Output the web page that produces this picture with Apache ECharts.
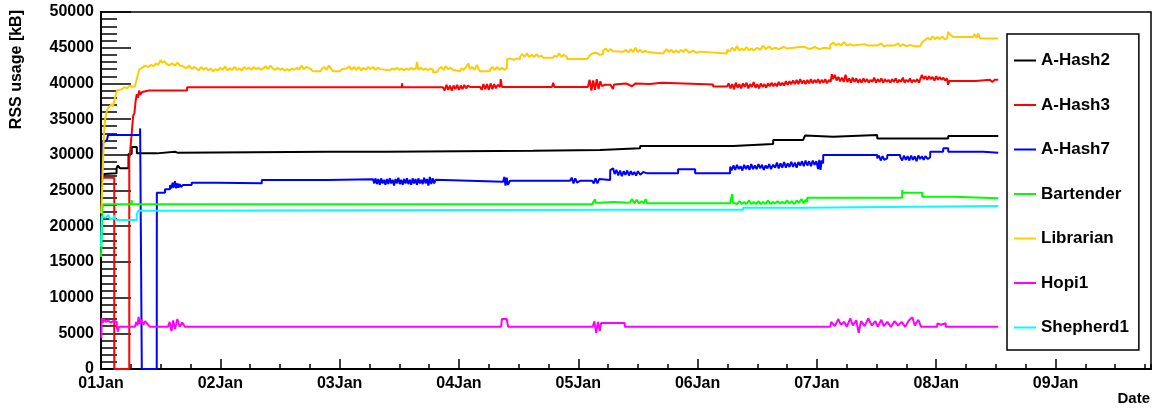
<!DOCTYPE html>
<html>
<head>
<meta charset="utf-8">
<script src="https://cdn.jsdelivr.net/npm/echarts@6/dist/echarts.min.js"></script>
<style>
html,body{margin:0;padding:0;background:#fff;}
#chart{width:1157px;height:413px;}
</style>
</head>
<body>
<div id="chart"></div>
<script>
// x values are days since 01 Jan 00:00, y values are RSS usage in kB
const dayLabels = ['01Jan','02Jan','03Jan','04Jan','05Jan','06Jan','07Jan','08Jan','09Jan'];
const yTicks = [0,5000,10000,15000,20000,25000,30000,35000,40000,45000,50000];
const seriesNames = ['A-Hash2','A-Hash3','A-Hash7','Bartender','Librarian','Hopi1','Shepherd1'];
const seriesColors = ['#000000','#ff0000','#0000ff','#00ff00','#ffcc00','#ff00ff','#00ffff'];

const aHash2 = [[0.000,25600],[0.010,26500],[0.025,27300],[0.130,27400],[0.131,28100],[0.140,28500],[0.150,28700],[0.160,28100],[0.230,28100],[0.231,30100],[0.257,30100],[0.258,31100],[0.300,31100],[0.301,30200],[0.467,30200],[0.468,30430],[0.620,30430],[0.630,30700],[0.640,30300],[0.650,30430],[1.903,30430],[1.905,30250],[1.910,30430],[2.381,30430],[2.382,30570],[3.621,30570],[3.622,30670],[4.183,30670],[4.184,30900],[4.518,30900],[4.519,31230],[5.298,31230],[5.299,31370],[5.465,31370],[5.466,31500],[5.633,31500],[5.634,32070],[5.884,32070],[5.900,32700],[5.905,32540],[6.136,32540],[6.137,32770],[6.505,32770],[6.506,32300],[6.830,32300],[6.840,32150],[6.850,32300],[7.100,32300],[7.101,32630],[7.520,32630]];

const aHash3 = [[0.019,26800],[0.111,26800],[0.111,0],[0.237,0],[0.237,29500],[0.245,30700],[0.255,32500],[0.262,34000],[0.270,35500],[0.280,35800],[0.290,37500],[0.300,38500],[0.310,38000],[0.320,39000],[0.330,38400],[0.345,38800],[0.400,39000],[0.721,39000],[0.722,39450],[2.520,39450],[2.523,40000],[2.527,39450],[2.867,39450],[2.880,39000],[2.895,39800],[2.910,39100],[2.925,39700],[2.940,39000],[2.955,39700],[2.970,39200],[2.985,39800],[3.000,39100],[3.015,39700],[3.030,39200],[3.045,39800],[3.060,39300],[3.075,39700],[3.093,39500],[3.177,39500],[3.190,39100],[3.205,39900],[3.220,39200],[3.235,39900],[3.250,39100],[3.265,40000],[3.280,39200],[3.295,39900],[3.310,39300],[3.325,39800],[3.345,39500],[3.350,40600],[3.360,39500],[3.780,39500],[3.790,40100],[3.800,39500],[4.080,39500],[4.095,40500],[4.110,39000],[4.125,40400],[4.140,39100],[4.155,40600],[4.170,39200],[4.185,40300],[4.200,39600],[4.220,39800],[4.270,39800],[4.290,39200],[4.300,39850],[4.400,40000],[4.450,39600],[4.480,40000],[4.600,39900],[4.700,40100],[5.130,39850],[5.131,39550],[5.247,39550],[5.260,40000],[5.275,39300],[5.290,39900],[5.305,39200],[5.320,40100],[5.335,39400],[5.350,39900],[5.365,39300],[5.380,40000],[5.395,39500],[5.410,40100],[5.425,39300],[5.440,39900],[5.455,39500],[5.470,40200],[5.485,39400],[5.500,39900],[5.515,39300],[5.530,40000],[5.545,39500],[5.560,39900],[5.575,39400],[5.590,40000],[5.605,39600],[5.620,40100],[5.635,39600],[5.650,40000],[5.665,39600],[5.680,40200],[5.695,39700],[5.710,40100],[5.725,39700],[5.740,40300],[5.755,39800],[5.770,40300],[5.785,39900],[5.800,40400],[5.815,39900],[5.830,40500],[5.845,39900],[5.860,40600],[5.875,40000],[5.890,40400],[5.905,39900],[5.920,40500],[5.935,40000],[5.950,40600],[5.965,40000],[5.980,40500],[5.995,40100],[6.010,40600],[6.025,40000],[6.040,40500],[6.055,40100],[6.070,40600],[6.085,40000],[6.100,40500],[6.115,40200],[6.125,41300],[6.135,40600],[6.150,41200],[6.165,40400],[6.180,40900],[6.195,40300],[6.210,40800],[6.225,40200],[6.240,41200],[6.255,40200],[6.270,40700],[6.285,40100],[6.300,40800],[6.315,40200],[6.330,40700],[6.345,40100],[6.360,40600],[6.375,40100],[6.390,40700],[6.405,40200],[6.420,40600],[6.435,40100],[6.450,40500],[6.465,40200],[6.480,40800],[6.495,40100],[6.510,40600],[6.525,40200],[6.540,40700],[6.555,40100],[6.570,40600],[6.585,40200],[6.600,40500],[6.615,40100],[6.630,40600],[6.645,40200],[6.660,40700],[6.675,40100],[6.690,40500],[6.705,40200],[6.720,40800],[6.735,40100],[6.750,40500],[6.765,40200],[6.780,40700],[6.795,40100],[6.810,40500],[6.825,40200],[6.840,40600],[6.855,40100],[6.870,40300],[6.880,41200],[6.895,40600],[6.910,41000],[6.925,40500],[6.940,41000],[6.955,40600],[6.970,40900],[6.985,40400],[7.000,41000],[7.015,40500],[7.030,40900],[7.045,40500],[7.060,40800],[7.075,40400],[7.090,40700],[7.100,39800],[7.110,40350],[7.330,40350],[7.331,40500],[7.450,40500],[7.470,40200],[7.490,40500],[7.520,40500]];

const aHash7 = [[0.002,27000],[0.006,28300],[0.010,31100],[0.020,31700],[0.034,31800],[0.050,32070],[0.059,32770],[0.327,32770],[0.328,33700],[0.341,33700],[0.342,0],[0.467,0],[0.468,24700],[0.536,24700],[0.537,25170],[0.578,25170],[0.579,25770],[0.590,25300],[0.600,26100],[0.610,25400],[0.620,26300],[0.630,25300],[0.640,26000],[0.650,25400],[0.660,25900],[0.670,25500],[0.687,25770],[0.760,25770],[0.761,26100],[0.970,26100],[0.971,26000],[1.347,26000],[1.348,26470],[1.900,26470],[1.901,26560],[2.280,26560],[2.290,26000],[2.300,26700],[2.312,25900],[2.324,26600],[2.336,25800],[2.348,26700],[2.360,26000],[2.372,26500],[2.384,25800],[2.396,26600],[2.408,25900],[2.420,26700],[2.432,26000],[2.444,26500],[2.456,25700],[2.468,26600],[2.480,26000],[2.492,26800],[2.504,25900],[2.516,26500],[2.528,25800],[2.540,26600],[2.552,26000],[2.564,26700],[2.576,25900],[2.588,26500],[2.600,25800],[2.612,26700],[2.624,26000],[2.636,26600],[2.648,25800],[2.660,26700],[2.672,26000],[2.684,26500],[2.696,25900],[2.708,26800],[2.720,26000],[2.732,26600],[2.744,25700],[2.756,26900],[2.768,25900],[2.780,26700],[2.792,26000],[2.804,26500],[2.816,26230],[3.370,26230],[3.380,26900],[3.390,25700],[3.400,26800],[3.410,25800],[3.428,26370],[3.931,26370],[3.945,26800],[3.960,26000],[3.975,26700],[3.990,26100],[4.015,26370],[4.116,26370],[4.130,26000],[4.145,26700],[4.160,26000],[4.175,26600],[4.183,26470],[4.267,26470],[4.268,27870],[4.292,28100],[4.305,27300],[4.320,27900],[4.335,27100],[4.350,27800],[4.365,27000],[4.380,27700],[4.395,27200],[4.410,27800],[4.425,27100],[4.440,27700],[4.455,27200],[4.470,27600],[4.485,27100],[4.500,27700],[4.520,27200],[4.545,27600],[4.577,27400],[4.836,27400],[4.837,27970],[4.979,27970],[4.980,27400],[5.272,27400],[5.273,28330],[5.285,27800],[5.300,28500],[5.315,27900],[5.330,28600],[5.345,28000],[5.360,28400],[5.375,27800],[5.390,28600],[5.405,28000],[5.420,28500],[5.435,27900],[5.450,28700],[5.465,28000],[5.480,28500],[5.495,28000],[5.510,28700],[5.525,28100],[5.540,28600],[5.555,27900],[5.570,28500],[5.585,28100],[5.600,28700],[5.615,28000],[5.633,28600],[5.650,28200],[5.665,28900],[5.680,28100],[5.695,28800],[5.710,28200],[5.725,29000],[5.740,28200],[5.755,28800],[5.770,28300],[5.785,29000],[5.800,28300],[5.815,28900],[5.830,28200],[5.845,29000],[5.860,28500],[5.875,29100],[5.890,28400],[5.905,29200],[5.920,28500],[5.935,29100],[5.950,28400],[5.965,29200],[5.980,28600],[5.995,29100],[6.010,28000],[6.020,29300],[6.030,27900],[6.040,29200],[6.052,28800],[6.053,29970],[6.505,29970],[6.506,29500],[6.520,29900],[6.535,29200],[6.550,29800],[6.565,29300],[6.589,29500],[6.590,29970],[6.698,29970],[6.699,29650],[6.715,29200],[6.730,29900],[6.745,29300],[6.760,29800],[6.775,29200],[6.790,29900],[6.805,29300],[6.820,29800],[6.835,29100],[6.850,29900],[6.865,29400],[6.880,29800],[6.895,29300],[6.910,29800],[6.930,29400],[6.949,29650],[6.950,30430],[7.058,30430],[7.059,30900],[7.100,30900],[7.101,30430],[7.393,30430],[7.394,30290],[7.520,30290]];

const bartender = [[0.000,15700],[0.005,18000],[0.012,22500],[0.020,23060],[0.255,23060],[0.257,23670],[0.260,23060],[3.386,23060],[3.388,23300],[3.390,23060],[4.116,23060],[4.140,23770],[4.145,23300],[4.183,23300],[4.290,23400],[4.434,23300],[4.450,23800],[4.470,23200],[4.490,23700],[4.510,23200],[4.530,23500],[4.550,23200],[4.565,23800],[4.577,23200],[5.272,23200],[5.289,24500],[5.295,23300],[5.310,23500],[5.330,23100],[5.350,23500],[5.370,23100],[5.390,23400],[5.410,23100],[5.430,23600],[5.450,23100],[5.470,23400],[5.490,23100],[5.510,23500],[5.530,23100],[5.550,23400],[5.570,23100],[5.590,23600],[5.610,23100],[5.630,23400],[5.650,23200],[5.670,23500],[5.690,23200],[5.710,23400],[5.730,23200],[5.750,23600],[5.770,23200],[5.790,23500],[5.810,23100],[5.830,23600],[5.850,23300],[5.870,23800],[5.890,23200],[5.905,23700],[5.918,23400],[5.919,24000],[6.236,24000],[6.238,24200],[6.240,24000],[6.714,24000],[6.715,25070],[6.720,24700],[6.882,24700],[6.883,24130],[7.142,24130],[7.143,23900],[7.520,23900]];

const librarian = [[0.000,21800],[0.004,22700],[0.013,27000],[0.025,33000],[0.034,34900],[0.050,36200],[0.062,36600],[0.075,36400],[0.090,37100],[0.101,36800],[0.117,38000],[0.134,39000],[0.150,38800],[0.176,39200],[0.200,39500],[0.218,39300],[0.240,39700],[0.260,39500],[0.285,39600],[0.302,40800],[0.319,41900],[0.344,42200],[0.370,42500],[0.394,42300],[0.420,42600],[0.440,42400],[0.460,42800],[0.480,42600],[0.500,43300],[0.511,42900],[0.530,43100],[0.545,42800],[0.570,42500],[0.595,42800],[0.620,42500],[0.640,42900],[0.662,42500],[0.690,42400],[0.712,42100],[0.740,42500],[0.763,42000],[0.780,42300],[0.800,42100],[0.820,41800],[0.840,42300],[0.860,41900],[0.880,42200],[0.900,41800],[0.920,42100],[0.940,41700],[0.960,42000],[0.980,41800],[1.000,42200],[1.020,41900],[1.040,42400],[1.060,41800],[1.080,42100],[1.100,41900],[1.120,42300],[1.140,41900],[1.160,42100],[1.180,41800],[1.200,42300],[1.220,42000],[1.240,42200],[1.260,41900],[1.280,42300],[1.300,42000],[1.320,42200],[1.340,41900],[1.360,42100],[1.380,42400],[1.400,42000],[1.420,42500],[1.440,42100],[1.460,41900],[1.480,42200],[1.500,41900],[1.520,42100],[1.540,41800],[1.560,42000],[1.580,41800],[1.600,42100],[1.620,41900],[1.643,42200],[1.660,41900],[1.680,42500],[1.700,42000],[1.720,42300],[1.752,42100],[1.777,41700],[1.836,41700],[1.850,42000],[1.870,42300],[1.890,41900],[1.910,42500],[1.930,42000],[1.945,41700],[2.003,41700],[2.020,42000],[2.062,42100],[2.080,42400],[2.100,41900],[2.120,42300],[2.140,41900],[2.160,42300],[2.180,41800],[2.200,42200],[2.220,41900],[2.240,42300],[2.260,42000],[2.280,42300],[2.300,41900],[2.320,42200],[2.339,42000],[2.340,41850],[2.422,41850],[2.440,42100],[2.460,41900],[2.480,42200],[2.500,41900],[2.520,42100],[2.540,41800],[2.560,42100],[2.580,41900],[2.600,42200],[2.620,41900],[2.640,42200],[2.649,43000],[2.660,41900],[2.680,42200],[2.700,41900],[2.720,42100],[2.740,41800],[2.760,42100],[2.783,41900],[2.784,41550],[2.816,41550],[2.830,42000],[2.850,42300],[2.870,41900],[2.890,42400],[2.910,42000],[2.930,42200],[2.951,41900],[2.952,41700],[3.009,41700],[3.020,42100],[3.040,41900],[3.060,42300],[3.080,42800],[3.090,42000],[3.110,42300],[3.130,41900],[3.150,42600],[3.165,42000],[3.177,42100],[3.178,41700],[3.261,41700],[3.262,42000],[3.280,42300],[3.300,41900],[3.320,42300],[3.340,41900],[3.360,42200],[3.380,41900],[3.403,42100],[3.404,43400],[3.430,43500],[3.460,43300],[3.490,43500],[3.512,43400],[3.513,43750],[3.530,44100],[3.550,43700],[3.570,44200],[3.590,43700],[3.610,44000],[3.630,43700],[3.650,44100],[3.670,43700],[3.690,43900],[3.705,43750],[3.706,43600],[3.789,43600],[3.800,43900],[3.820,43700],[3.840,44200],[3.860,43700],[3.880,44000],[3.906,43700],[3.907,43400],[4.074,43400],[4.090,43800],[4.116,44200],[4.150,44300],[4.180,44000],[4.208,44100],[4.209,44600],[4.230,44900],[4.250,44500],[4.270,44800],[4.292,44500],[4.293,44450],[4.376,44450],[4.400,44700],[4.420,44300],[4.440,44800],[4.460,44400],[4.480,45000],[4.500,44400],[4.520,44700],[4.540,44300],[4.560,44600],[4.577,44400],[4.578,44200],[4.711,44200],[4.712,44450],[4.740,44800],[4.760,44400],[4.780,44700],[4.800,44300],[4.820,44600],[4.840,44300],[4.860,44700],[4.880,44400],[4.900,44800],[4.930,44300],[4.960,44600],[4.990,44300],[5.021,44450],[5.022,44200],[5.247,44200],[5.248,44700],[5.270,44500],[5.290,45000],[5.310,44600],[5.330,45200],[5.350,44600],[5.370,44900],[5.390,44600],[5.410,45100],[5.430,44600],[5.450,44900],[5.470,44600],[5.500,45000],[5.524,44700],[5.525,44900],[5.550,45300],[5.570,44800],[5.600,45200],[5.620,44800],[5.650,45000],[5.680,44800],[5.720,45100],[5.750,44900],[5.751,45100],[5.859,45100],[5.860,44900],[5.900,45100],[5.940,44800],[5.980,45100],[6.020,44800],[6.060,45000],[6.111,44900],[6.112,45400],[6.140,45700],[6.160,45300],[6.180,45600],[6.200,45300],[6.230,45800],[6.250,45300],[6.280,45500],[6.303,45300],[6.400,45500],[6.430,45300],[6.500,45300],[6.540,45600],[6.560,45200],[6.588,45300],[6.589,45200],[6.650,45300],[6.680,45600],[6.700,45200],[6.720,45500],[6.750,45200],[6.780,45400],[6.810,45200],[6.865,45200],[6.880,45700],[6.907,46100],[6.930,46400],[6.950,46100],[6.970,46600],[6.990,46200],[7.010,46500],[7.030,46200],[7.050,46600],[7.070,46200],[7.091,46300],[7.100,47200],[7.120,46800],[7.142,46500],[7.309,46500],[7.320,46900],[7.340,46400],[7.350,47000],[7.368,46300],[7.520,46300]];

const hopi1 = [[0.003,4300],[0.006,7100],[0.015,6500],[0.025,7000],[0.040,6600],[0.060,6800],[0.080,6500],[0.100,6700],[0.132,6630],[0.133,5900],[0.142,5230],[0.150,5900],[0.285,5900],[0.295,6600],[0.305,6100],[0.315,7300],[0.325,6300],[0.340,6900],[0.355,6200],[0.370,6700],[0.390,6300],[0.411,5900],[0.562,5900],[0.575,6600],[0.590,5300],[0.605,6800],[0.620,5600],[0.640,7000],[0.660,5900],[0.680,6500],[0.704,5900],[3.353,5900],[3.360,7000],[3.400,7000],[3.412,5900],[4.121,5900],[4.135,6680],[4.150,5080],[4.165,6600],[4.180,5300],[4.191,6430],[4.389,6430],[4.390,5900],[6.111,5900],[6.120,6600],[6.150,6000],[6.180,7000],[6.200,6200],[6.230,6600],[6.250,5900],[6.280,7100],[6.300,6100],[6.330,6800],[6.350,5080],[6.370,6700],[6.400,6000],[6.430,7100],[6.460,6100],[6.490,6700],[6.510,5900],[6.540,6900],[6.560,6000],[6.590,6600],[6.620,5900],[6.650,6700],[6.680,6100],[6.710,6600],[6.740,5900],[6.770,6800],[6.800,7250],[6.820,6100],[6.850,6900],[6.873,5900],[7.007,5900],[7.010,6400],[7.040,6200],[7.079,6400],[7.080,5900],[7.520,5900]];

const shepherd1 = [[0.000,17130],[0.006,21330],[0.020,21500],[0.040,21200],[0.060,21600],[0.075,21330],[0.076,21010],[0.101,21010],[0.110,21500],[0.120,20900],[0.140,20870],[0.299,20870],[0.300,21700],[0.313,22170],[0.320,22300],[4.200,22300],[4.210,22500],[4.220,22300],[5.381,22300],[5.382,22600],[5.884,22600],[5.885,22830],[7.520,22830]];

const seriesData = [aHash2, aHash3, aHash7, bartender, librarian, hopi1, shepherd1];

const FONT = "'Liberation Sans', Arial, sans-serif";
const chart = echarts.init(document.getElementById('chart'), null, {renderer:'canvas'});
const gridBox = {left:101, right:6, top:12, bottom:44};

chart.setOption({
  animation:false,
  backgroundColor:'#ffffff',
  grid:[
    Object.assign({show:true, borderColor:'#000', borderWidth:1.5, backgroundColor:'transparent', containLabel:false}, gridBox),
    Object.assign({show:false, containLabel:false}, gridBox)
  ],
  xAxis:[
    {gridIndex:0, type:'value', min:0, max:8.8, interval:1,
     axisLine:{show:true, onZero:false, lineStyle:{color:'#000', width:2}},
     axisTick:{show:true, inside:true, length:10, lineStyle:{color:'#000', width:1.5}},
     axisLabel:{show:true, margin:7, showMaxLabel:false, color:'#000', fontFamily:FONT, fontWeight:'bold', fontSize:16,
       formatter:function(v){ const i=Math.round(v); return Math.abs(v-i)<1e-6 && dayLabels[i] ? dayLabels[i] : ''; }},
     splitLine:{show:false}},
    {gridIndex:1, type:'value', min:0, max:8.8, interval:0.25,
     axisLine:{show:false},
     axisTick:{show:true, inside:true, length:5, lineStyle:{color:'#000', width:1.5}},
     axisLabel:{show:false}, splitLine:{show:false}}
  ],
  yAxis:[
    {gridIndex:0, type:'value', min:yTicks[0], max:yTicks[yTicks.length-1], interval:yTicks[1]-yTicks[0],
     axisLine:{show:true, onZero:false, lineStyle:{color:'#000', width:2}},
     axisTick:{show:true, inside:true, length:30, lineStyle:{color:'#000', width:1.5}},
     minorTick:{show:true, splitNumber:5, length:16, lineStyle:{color:'#000', width:1.5}},
     axisLabel:{show:true, margin:7, color:'#000', fontFamily:FONT, fontWeight:'bold', fontSize:16,
       formatter:function(v){ return String(v); }},
     splitLine:{show:false}, minorSplitLine:{show:false}},
    {gridIndex:1, type:'value', min:0, max:50000, show:false}
  ],
  legend:{
    show:true, orient:'vertical', left:1007, top:34,
    padding:[18,10,14,6], itemGap:27.5, itemWidth:22, itemHeight:14,
    borderColor:'#000', borderWidth:1.5, backgroundColor:'#fff',
    selectedMode:false,
    itemStyle:{opacity:0},
    textStyle:{color:'#000', fontFamily:FONT, fontWeight:'bold', fontSize:17},
    data:seriesNames
  },
  graphic:[
    {type:'text', x:17, y:10, rotation:Math.PI/2,
     style:{text:'RSS usage [kB]', align:'right', verticalAlign:'middle', fill:'#000', font:"bold 16px 'Liberation Sans', Arial, sans-serif"}},
    {type:'text', x:1150, y:399,
     style:{text:'Date', align:'right', verticalAlign:'middle', fill:'#000', font:"bold 15px 'Liberation Sans', Arial, sans-serif"}}
  ],
  series: seriesNames.map(function(name, i){
    return {name:name, type:'line', xAxisIndex:0, yAxisIndex:0, data:seriesData[i],
      symbol:'none', showSymbol:false, smooth:false, color:seriesColors[i],
      lineStyle:{color:seriesColors[i], width:2}, itemStyle:{color:seriesColors[i]},
      emphasis:{disabled:true}, z:2+i};
  })
});
</script>
</body>
</html>
